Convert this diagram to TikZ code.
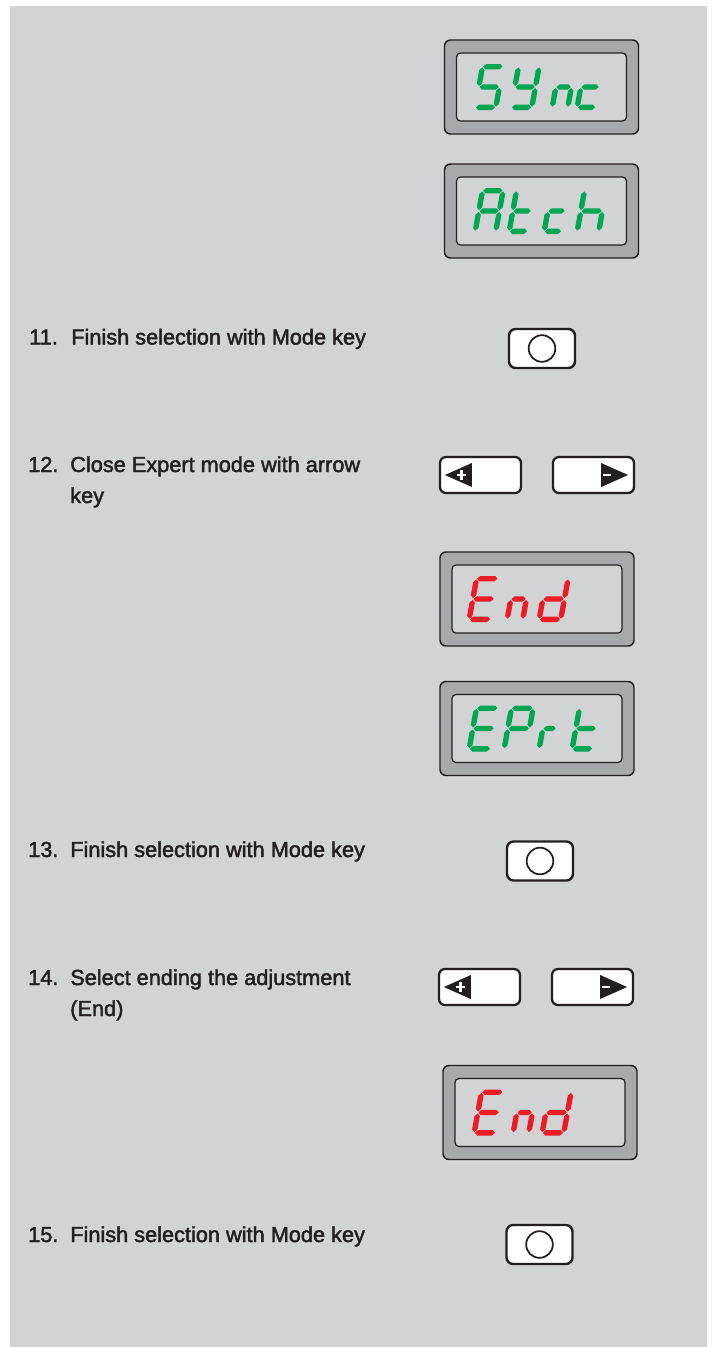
\documentclass[tikz,border=0pt]{standalone}
\usepackage{fontspec}
\setmainfont{Liberation Sans}[FakeBold=2]
\definecolor{panelgrey}{RGB}{209,211,212}
\definecolor{framegrey}{RGB}{167,169,172}
\definecolor{inkdark}{RGB}{35,31,32}
\definecolor{lcdgreen}{RGB}{0,166,81}
\definecolor{lcdred}{RGB}{237,28,36}

% one segment of a seven-segment cell, 46 units high, \segW wide
\newcommand{\hseg}[3]{(#2,#1) -- (#2+2.7,#1+2.7) -- (#3-2.7,#1+2.7) -- (#3,#1)
  -- (#3-2.7,#1-2.7) -- (#2+2.7,#1-2.7) -- cycle}
\newcommand{\vseg}[3]{(#1,#2) -- (#1+2.7,#2+2.7) -- (#1+2.7,#3-2.7) -- (#1,#3)
  -- (#1-2.7,#3-2.7) -- (#1-2.7,#2+2.7) -- cycle}
\newcommand{\lcdsega}{\hseg{43.3}{3.4}{\segW-3.4}}
\newcommand{\lcdsegb}{\vseg{\segW-2.7}{24}{42.6}}
\newcommand{\lcdsegc}{\vseg{\segW-2.7}{3.4}{22}}
\newcommand{\lcdsegd}{\hseg{2.7}{3.4}{\segW-3.4}}
\newcommand{\lcdsege}{\vseg{2.7}{3.4}{22}}
\newcommand{\lcdsegf}{\vseg{2.7}{24}{42.6}}
\newcommand{\lcdsegg}{\hseg{23}{3.4}{\segW-3.4}}
% #1,#2 bottom left of the cell, #3 width, #4 segments, #5 colour
\newcommand{\lcdchar}[5]{%
  \begin{scope}[shift={(#1,#2)}, x=0.75pt, y=0.75pt, xslant=0.18]
    \def\segW{#3}
    \foreach \s in {#4}{%
      \expandafter\let\expandafter\segnow\csname lcdseg\s\endcsname
      \fill[#5] \segnow;}
  \end{scope}}

\begin{document}
\begin{tikzpicture}[
  x=0.75pt, y=-0.75pt,
  lcdframe/.style={draw=inkdark, fill=framegrey, line width=1.1pt,
    rounded corners=4.5pt, minimum width=145.5pt, minimum height=70.5pt,
    inner sep=0pt},
  lcdglass/.style={draw=inkdark, fill=panelgrey, line width=0.9pt,
    rounded corners=3pt, minimum width=127.5pt, minimum height=51pt,
    inner sep=0pt},
  modekey/.style={draw=inkdark, fill=white, line width=1.8pt,
    rounded corners=5pt, minimum width=49.5pt, minimum height=29.25pt,
    inner sep=0pt},
  modering/.style={circle, draw=inkdark, line width=1.3pt, minimum size=20pt,
    inner sep=0pt},
  arrowkey/.style={draw=inkdark, fill=white, line width=1.7pt,
    rounded corners=4.5pt, minimum width=60.75pt, minimum height=27pt,
    inner sep=0pt},
  itemno/.style={anchor=base west, inner sep=0pt, text=inkdark,
    font=\fontsize{16.3}{23.25}\selectfont},
  itemtext/.style={itemno, align=left}
]
\useasboundingbox (0,0) rectangle (715,1347);
\fill[white] (0,0) rectangle (715,1347);
\fill[panelgrey] (10,6) rectangle (707,1347);

% Displays
\node[lcdframe] (lcd1) at (541.5,87) {};
\node[lcdglass] (glass1) at (lcd1) {};
\lcdchar{472}{110}{26}{a,f,g,c,d}{lcdgreen}
\lcdchar{508}{110}{26}{f,b,g,c,d}{lcdgreen}
\lcdchar{549}{110}{21}{e,g,c}{lcdgreen}
\lcdchar{574}{110}{24}{g,e,d}{lcdgreen}

\node[lcdframe] (lcd2) at (541.5,211) {};
\node[lcdglass] (glass2) at (lcd2) {};
\lcdchar{472}{234}{26}{a,b,c,e,f,g}{lcdgreen}
\lcdchar{506}{234}{24}{f,e,g,d}{lcdgreen}
\lcdchar{541}{234}{23}{g,e,d}{lcdgreen}
\lcdchar{574}{234}{27}{f,e,g,c}{lcdgreen}

\node[lcdframe] (lcd3) at (537,599) {};
\node[lcdglass] (glass3) at (lcd3) {};
\lcdchar{466}{622}{27}{a,f,g,e,d}{lcdred}
\lcdchar{504}{622}{21}{e,g,c}{lcdred}
\lcdchar{536}{622}{27}{b,c,d,e,g}{lcdred}

\node[lcdframe] (lcd4) at (537,728.5) {};
\node[lcdglass] (glass4) at (lcd4) {};
\lcdchar{466}{751.5}{27}{a,f,g,e,d}{lcdgreen}
\lcdchar{501}{751.5}{27}{a,b,f,g,e}{lcdgreen}
\lcdchar{536}{751.5}{19}{e,g}{lcdgreen}
\lcdchar{569}{751.5}{26}{f,e,g,d}{lcdgreen}

\node[lcdframe] (lcd5) at (540,1112.5) {};
\node[lcdglass] (glass5) at (lcd5) {};
\lcdchar{471}{1135.5}{27}{a,f,g,e,d}{lcdred}
\lcdchar{510}{1135.5}{21}{e,g,c}{lcdred}
\lcdchar{539}{1135.5}{27}{b,c,d,e,g}{lcdred}

% Mode keys
\foreach \k/\px/\py in {11/542/348.5, 13/540/861, 15/539.5/1244.5}{
  \node[modekey] (key\k) at (\px,\py) {};
  \node[modering] (ring\k) at (key\k) {};
}

% Arrow keys
\foreach \k/\px/\py in {12/480.5/475, 14/479.5/987}{
  \node[arrowkey] (key\k l) at (\px,\py) {};
  \node[arrowkey] (key\k r) at (\px+113,\py) {};
  \fill[inkdark] ([xshift=4.5pt]key\k l.west) -- ++(27,-12) -- ++(0,24) -- cycle;
  \fill[inkdark] ([xshift=-5.25pt]key\k r.east) -- ++(-27,-12) -- ++(0,24) -- cycle;
  \coordinate (plus\k) at ([xshift=17.25pt]key\k l.west);
  \coordinate (minus\k) at ([xshift=-21pt]key\k r.east);
  \draw[white, line width=2.2pt] ([xshift=-3.4pt]plus\k) -- ([xshift=3.4pt]plus\k)
    ([yshift=-3.7pt]plus\k) -- ([yshift=3.7pt]plus\k);
  \draw[white, line width=2.2pt] ([xshift=-3pt]minus\k) -- ([xshift=3pt]minus\k);
}

% Steps
\node[itemno] (no11) at (29,344.5) {11.};
\node[itemtext] (txt11) at (71,344.5) {Finish selection with Mode key};
\node[itemno] (no12) at (28,472) {12.};
\node[itemtext] (txt12) at (70,503) {Close Expert mode with arrow\\key};
\node[itemno] (no13) at (28,857) {13.};
\node[itemtext] (txt13) at (70,857) {Finish selection with Mode key};
\node[itemno] (no14) at (28,985) {14.};
\node[itemtext] (txt14) at (70,1016) {Select ending the adjustment\\(End)};
\node[itemno] (no15) at (28,1242) {15.};
\node[itemtext] (txt15) at (70,1242) {Finish selection with Mode key};
\end{tikzpicture}
\end{document}
